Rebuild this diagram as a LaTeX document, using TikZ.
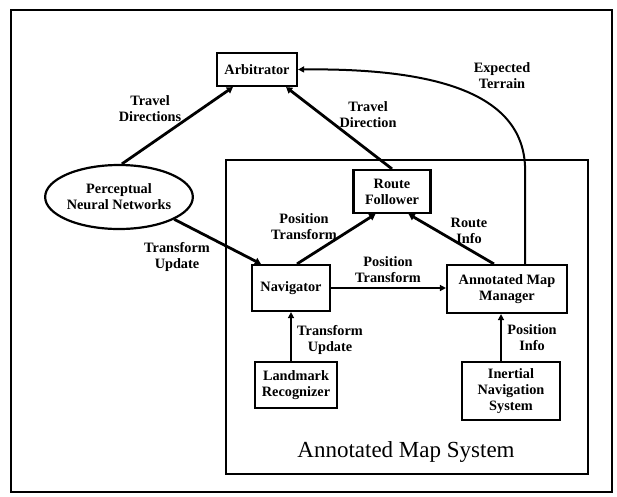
\documentclass[tikz,border=0pt]{standalone}
\usepackage{fontspec}
\setmainfont{Liberation Serif}
\usetikzlibrary{arrows.meta,calc,shapes.geometric}
\newcommand{\lblfont}{\fontsize{14.3}{16}\selectfont\bfseries}
\begin{document}
\begin{tikzpicture}[x=1pt,y=-1pt,
  box/.style={draw,line width=2.2pt,inner sep=0pt,align=center,font=\lblfont},
  lab/.style={inner sep=0pt,align=center,font=\lblfont},
  link/.style={line width=2.8pt,-{Triangle[length=6pt,width=7pt]}},
  flow/.style={line width=2pt,-{Triangle[length=6pt,width=6pt]}}]
\useasboundingbox (0,0) rectangle (617,496);

% outer frame and the map-system enclosure
\draw[line width=2.5pt] (11,10) rectangle (612,492);
\draw[line width=2.3pt] (226,160) rectangle (588,474);

% components
\node[box,minimum width=80pt,minimum height=33pt] (arb) at (257,69.5) {Arbitrator};
\node[box,ellipse,minimum width=132pt,minimum height=64pt] (pnn) at (119,197) {Perceptual\\Neural Networks};
\node[box,minimum width=77pt,minimum height=43pt] (rf) at (392,191.5) {Route\\Follower};
\node[box,minimum width=78pt,minimum height=46pt] (nav) at (291,288) {Navigator};
\node[box,minimum width=120pt,minimum height=48pt] (amm) at (507,289) {Annotated Map\\Manager};
\node[box,minimum width=82pt,minimum height=46pt] (lm) at (296,385) {Landmark\\Recognizer};
\node[box,minimum width=98pt,minimum height=58pt] (ins) at (511,391) {Inertial\\Navigation\\System};

% connector labels
\node[lab] (l1) at (150,109) {Travel\\Directions};
\node[lab] (l2) at (368,115) {Travel\\Direction};
\node[lab] (l3) at (502,76) {Expected\\Terrain};
\node[lab] (l4) at (177,257) {Transform\\Update};
\node[lab] (l5) at (304,227) {Position\\Transform};
\node[lab] (l6) at (469,231) {Route\\Info};
\node[lab] (l7) at (388,270) {Position\\Transform};
\node[lab] (l8) at (330,340) {Transform\\Update};
\node[lab] (l9) at (532,338) {Position\\Info};
\node[inner sep=0pt,font=\fontsize{23}{26}\selectfont] (ams) at (406,452) {Annotated Map System};

% connectors
\draw[link] (pnn.85) -- ($(arb.south west)+(17,0)$);
\draw[link] (rf.north) -- ($(arb.south east)+(-12,0)$);
\draw[link] (pnn.-22) -- ($(nav.north west)+(10,0)$);
\draw[link] ($(nav.north)+(6,0)$) -- ($(rf.south west)+(23,0)$);
\draw[link] ($(amm.north west)+(48,0)$) -- ($(rf.south east)+(-23,0)$);
\draw[flow] ($(amm.north east)+(-43,0)$) -- ++(0,-95)
  .. controls (524,95) and (440,68) .. (arb.east);
\draw[flow] (nav.east) -- (nav.east -| amm.west);
\draw[flow] (nav.south |- lm.north) -- (nav.south);
\coordinate (a9) at ($(amm.south)+(-6,0)$);
\draw[flow] (a9 |- ins.north) -- (a9);
\end{tikzpicture}
\end{document}
